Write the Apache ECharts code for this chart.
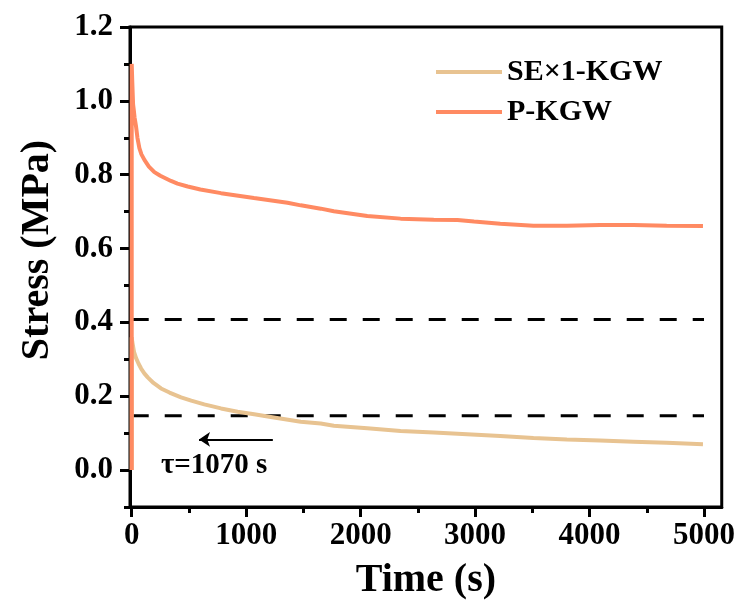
<!DOCTYPE html>
<html>
<head>
<meta charset="utf-8">
<script src="https://cdn.jsdelivr.net/npm/echarts@6/dist/echarts.min.js"></script>
<style>html,body{margin:0;padding:0;background:#fff}#c{width:738px;height:614px}</style>
</head>
<body>
<div id="c"></div>
<script>
const FONT = '"Liberation Serif", "Times New Roman", serif';
const seriesNames = ['SE\u00d71-KGW', 'P-KGW'];
const seKgw = [[0,0],[0,0.36],[5,0.347],[20,0.32],[38,0.303],[60,0.288],[82,0.275],[110,0.262],[140,0.251],[190,0.236],[256,0.221],[330,0.21],[431,0.197],[520,0.188],[634,0.178],[780,0.167],[925,0.158],[1070,0.151],[1215,0.144],[1477,0.131],[1651,0.126],[1766,0.120],[2058,0.113],[2349,0.106],[2639,0.102],[2930,0.097],[3220,0.092],[3510,0.087],[3802,0.083],[4092,0.080],[4383,0.077],[4674,0.074],[4991,0.070]];
const pKgw = [[0,0],[0,1.1],[5,1.05],[12,0.99],[18,0.975],[25,0.955],[38,0.93],[50,0.9],[67,0.872],[85,0.855],[111,0.84],[150,0.822],[198,0.807],[250,0.797],[343,0.783],[400,0.776],[489,0.768],[600,0.76],[780,0.75],[1068,0.737],[1361,0.724],[1477,0.717],[1652,0.708],[1766,0.701],[2058,0.688],[2349,0.681],[2639,0.678],[2846,0.677],[2991,0.673],[3220,0.667],[3510,0.662],[3802,0.662],[4092,0.664],[4383,0.664],[4674,0.662],[4991,0.661]];
const dashLevels = [0.408, 0.147];
const dashRange = [0, 5000];
const arrowFrom = [1233, 0.083];
const arrowTo = [588, 0.083];
const annotation = {text: '\u03c4=1070 s', at: [720, 0.011]};
const xMajorTicks = [0, 1000, 2000, 3000, 4000, 5000];
const xMinorTicks = [500, 1500, 2500, 3500, 4500];
const yMajorTicks = [0, 0.2, 0.4, 0.6, 0.8, 1.0, 1.2];
const yMinorTicks = [-0.1, 0.1, 0.3, 0.5, 0.7, 0.9, 1.1];
const xRange = [-15, 5155];
const yRange = [-0.1, 1.2];

const chart = echarts.init(document.getElementById('c'), null, {renderer: 'canvas'});
const lineStyle = () => ({color: '#000', width: 3});
const tickLabelStyle = {color: '#000', fontFamily: FONT, fontWeight: 'bold', fontSize: 31};
function tickAxis(type, range, values, len) {
  const pos = type === 'x' ? 'bottom' : 'left';
  return {type: 'value', min: range[0], max: range[1], position: pos,
    axisLine: {show: false, onZero: false}, axisLabel: {show: false}, splitLine: {show: false},
    axisTick: {show: true, inside: false, length: len, lineStyle: lineStyle(), customValues: values}};
}
chart.setOption({
  animation: false,
  backgroundColor: '#fff',
  grid: {left: 130, right: 15, top: 27, bottom: 107, show: true, borderColor: '#000', borderWidth: 3, backgroundColor: 'transparent'},
  legend: {
    data: seriesNames, orient: 'vertical', left: 436, top: 57, padding: 0,
    icon: 'rect', itemWidth: 66, itemHeight: 4, itemGap: 10,
    textStyle: {color: '#000', fontFamily: FONT, fontWeight: 'bold', fontSize: 30, lineHeight: 30}
  },
  xAxis: [
    {type: 'value', min: xRange[0], max: xRange[1], position: 'bottom',
     name: 'Time (s)', nameLocation: 'middle', nameGap: 54,
     nameTextStyle: {color: '#000', fontFamily: FONT, fontWeight: 'bold', fontSize: 40},
     axisLine: {show: true, onZero: false, lineStyle: lineStyle()},
     axisTick: {show: false},
     axisLabel: Object.assign({show: true, margin: 13, customValues: xMajorTicks, formatter: v => String(v)}, tickLabelStyle),
     splitLine: {show: false}},
    tickAxis('x', xRange, xMajorTicks, 10),
    tickAxis('x', xRange, xMinorTicks, 6)
  ],
  yAxis: [
    {type: 'value', min: yRange[0], max: yRange[1], position: 'left',
     axisLine: {show: true, onZero: false, lineStyle: lineStyle()},
     axisTick: {show: false},
     axisLabel: Object.assign({show: true, margin: 17, customValues: yMajorTicks, formatter: v => v.toFixed(1)}, tickLabelStyle),
     splitLine: {show: false}},
    tickAxis('y', yRange, yMajorTicks, 10),
    tickAxis('y', yRange, yMinorTicks, 6)
  ],
  graphic: [{
    type: 'text', x: 38, y: 250, rotation: Math.PI / 2,
    style: {text: 'Stress (MPa)', fill: '#000', font: 'bold 40px ' + FONT, textAlign: 'center', textVerticalAlign: 'middle'}
  }],
  series: [
    {name: 'dash-upper', type: 'line', data: dashRange.map(x => [x, dashLevels[0]]), symbol: 'none', silent: true,
     lineStyle: {color: '#000', width: 3, type: [17, 16]}, z: 1},
    {name: 'dash-lower', type: 'line', data: dashRange.map(x => [x, dashLevels[1]]), symbol: 'none', silent: true,
     lineStyle: {color: '#000', width: 3, type: [17, 16]}, z: 1},
    {name: seriesNames[0], type: 'line', data: seKgw, symbol: 'none', color: '#E8C391',
     lineStyle: {width: 4, color: '#E8C391'}, z: 3},
    {name: seriesNames[1], type: 'line', data: pKgw, symbol: 'none', color: '#FF8A62',
     lineStyle: {width: 4, color: '#FF8A62'}, z: 4},
    {name: 'annot', type: 'line', data: [], silent: true,
     markLine: {silent: true, symbol: ['none', 'arrow'], symbolSize: 11, label: {show: false},
       lineStyle: {color: '#000', width: 2, type: 'solid'},
       data: [[{coord: arrowFrom}, {coord: arrowTo}]]},
     markPoint: {silent: true, symbol: 'circle', symbolSize: 1, itemStyle: {color: 'rgba(0,0,0,0)'},
       label: {show: true, position: 'inside', formatter: annotation.text, color: '#000', fontFamily: FONT, fontWeight: 'bold', fontSize: 29},
       data: [{coord: annotation.at}]}}
  ]
});
</script>
</body>
</html>
